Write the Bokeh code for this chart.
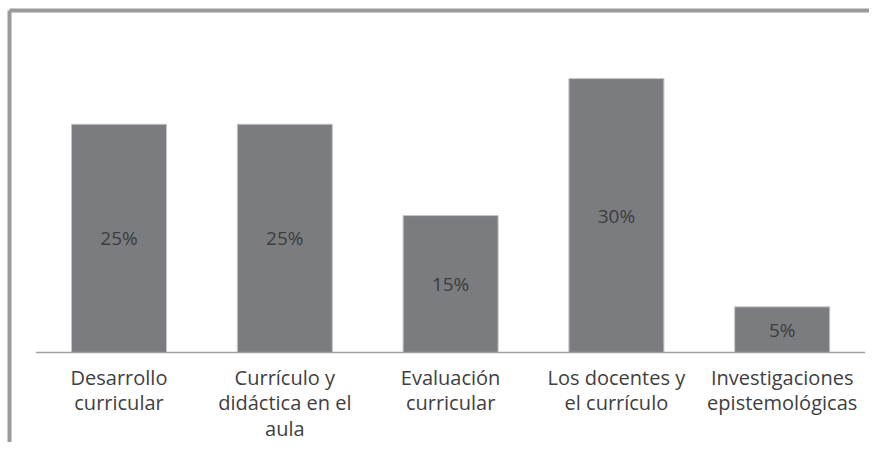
from bokeh.plotting import figure
from bokeh.models import Range1d, LinearAxis, FixedTicker, ColumnDataSource
from bokeh.core.properties import value
from bokeh.embed import file_html
from bokeh.resources import INLINE

# ---- data ----
categories = [
    "Desarrollo\ncurricular",
    "Currículo y\ndidáctica en el\naula",
    "Evaluación\ncurricular",
    "Los docentes y\nel currículo",
    "Investigaciones\nepistemológicas",
]
percentages = [25, 25, 15, 30, 5]
value_labels = ["25%", "25%", "15%", "30%", "5%"]

# ---- layout constants (pixels) ----
W, H = 869, 442
PX_PER_CAT = 165.8
PX_PER_PCT = 9.13
FRAME_LEFT, FRAME_RIGHT = 9, 869        # in figure coords
FRAME_TOP, FRAME_BOTTOM = 10, 442
ZERO_X = 35.6                           # figure x of category slot start
ZERO_Y = 352                            # figure y of the baseline

xs = [i + 0.5 for i in range(len(categories))]
x_start = (FRAME_LEFT - ZERO_X) / PX_PER_CAT
x_end = (FRAME_RIGHT - ZERO_X) / PX_PER_CAT
y_start = -(FRAME_BOTTOM - ZERO_Y) / PX_PER_PCT
y_end = (ZERO_Y - FRAME_TOP) / PX_PER_PCT

p = figure(
    width=W, height=H,
    x_range=Range1d(x_start, x_end), y_range=Range1d(y_start, y_end),
    output_backend="svg", toolbar_location=None,
    x_axis_location=None, y_axis_location=None,
    min_border_left=FRAME_LEFT, min_border_right=0,
    min_border_top=FRAME_TOP, min_border_bottom=0,
)
p.grid.visible = False
p.outline_line_color = None
p.background_fill_color = "white"
p.border_fill_color = "white"

BORDER = "#9a9a9a"
for loc in ("above", "left"):
    ax = LinearAxis(ticker=FixedTicker(ticks=[]))
    ax.axis_line_color = BORDER
    ax.axis_line_width = 4
    ax.major_tick_line_color = None
    ax.minor_tick_line_color = None
    ax.major_label_text_font_size = "0px"
    ax.major_label_standoff = 0
    ax.major_tick_out = 0
    ax.major_tick_in = 0
    p.add_layout(ax, loc)

src = ColumnDataSource(dict(
    x=xs, top=percentages, mid=[v / 2 for v in percentages],
    lbl=value_labels, cat=categories,
    cat_y=[-11 / PX_PER_PCT] * len(categories),
))

p.vbar(x="x", top="top", bottom=0, width=95 / PX_PER_CAT, source=src,
       fill_color="#7b7c80", line_color="#c4c4c6", line_width=1)

p.segment(x0=0, x1=len(categories), y0=0, y1=0,
          line_color="#a0a0a0", line_width=1.5)

p.text(x="x", y="mid", text="lbl", source=src,
       text_font=value("Open Sans"), text_font_size="19px",
       text_color="#3c3c3c", text_align="center", text_baseline="middle")

p.text(x="x", y="cat_y", text="cat", source=src,
       text_font=value("Open Sans"), text_font_size="20px",
       text_color="#404040", text_align="center", text_baseline="top",
       text_line_height=0.96)

open("out.html", "w").write(file_html(p, INLINE))
